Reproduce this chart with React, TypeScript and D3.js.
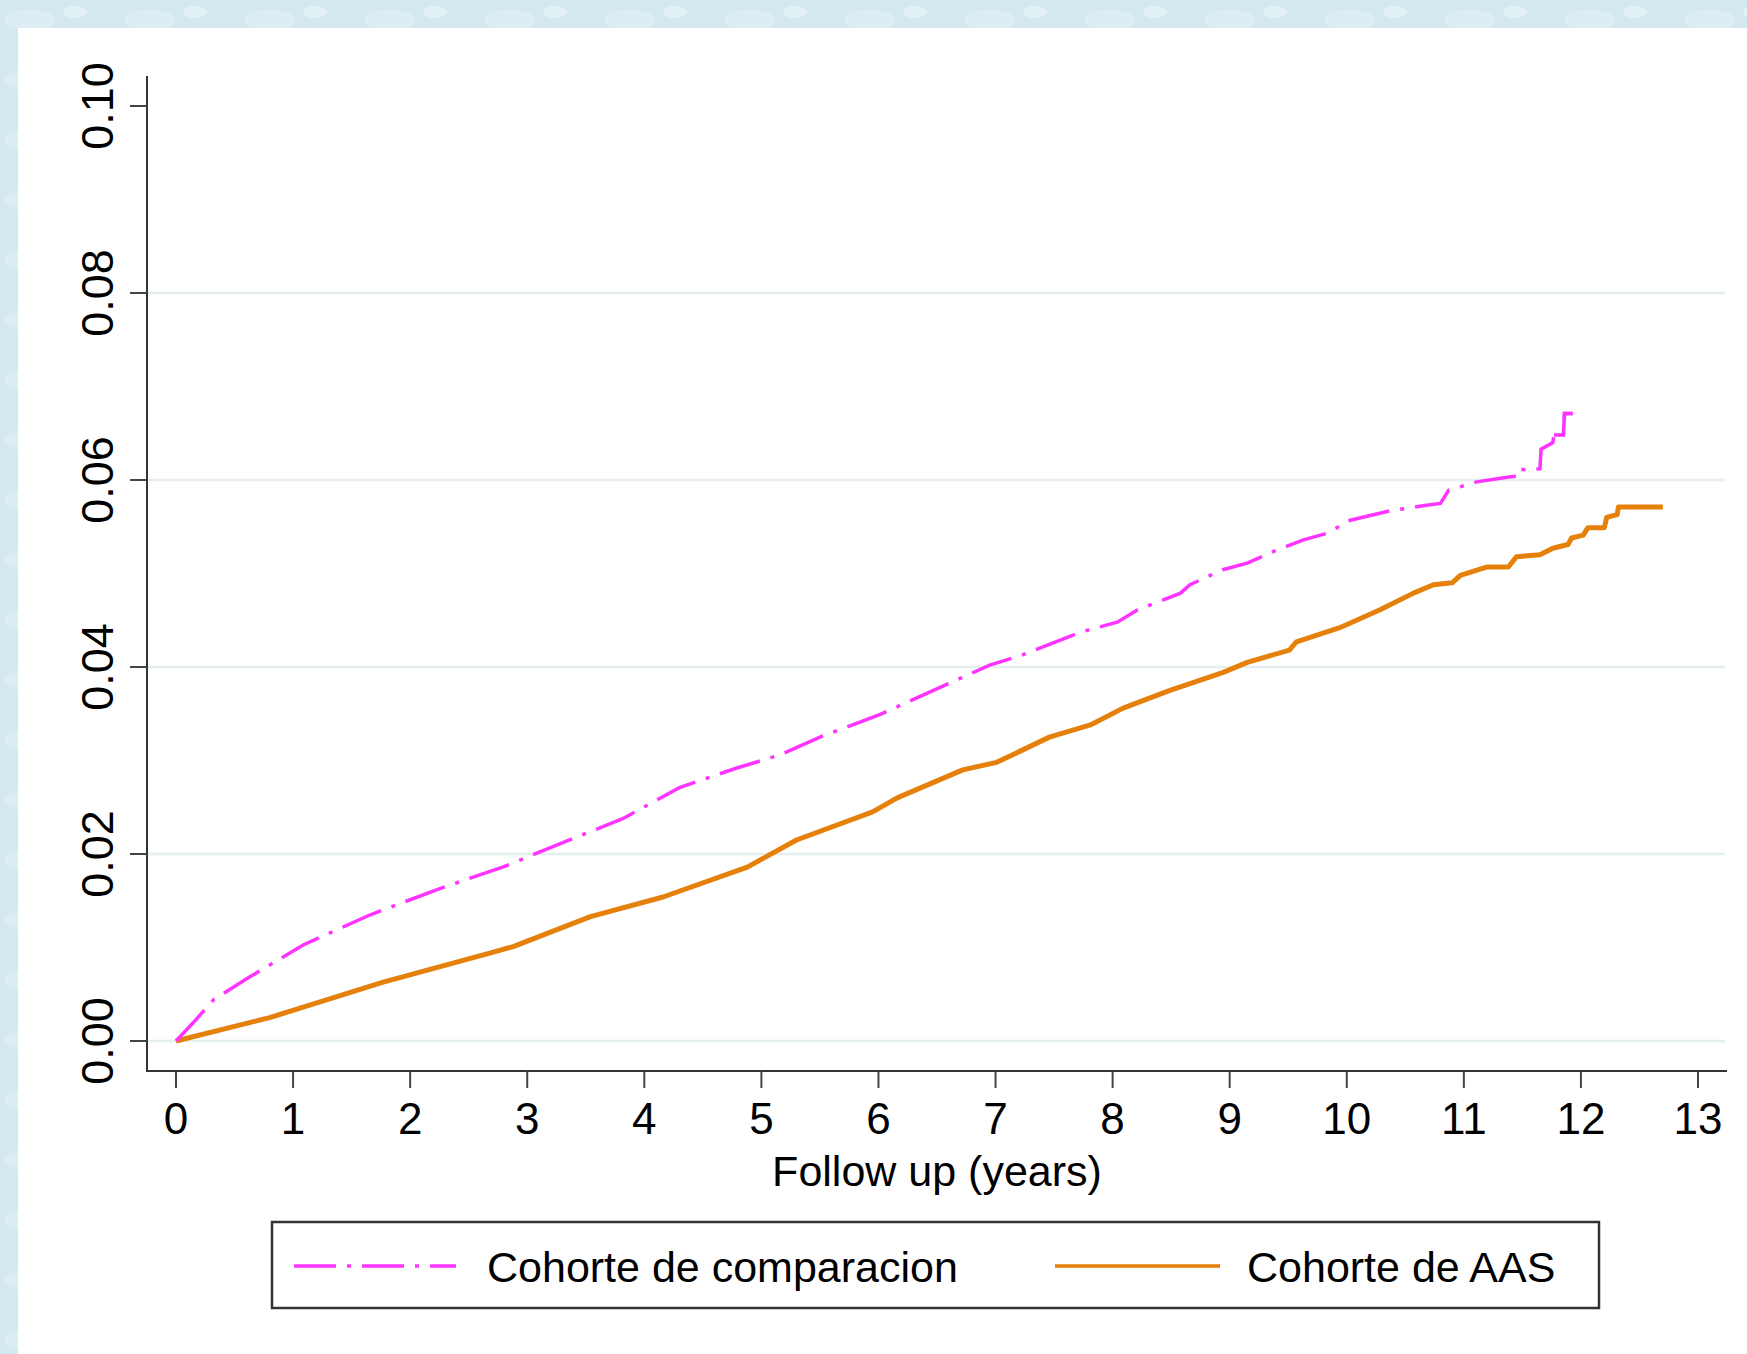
import React from "react";
import * as d3 from "d3";

const yTicks = [0, 0.02, 0.04, 0.06, 0.08, 0.1];
const gridTicks = [0, 0.02, 0.04, 0.06, 0.08];
const xTicks = d3.range(0, 14);

const compTime = [0, 0.15, 0.32, 0.61, 1.09, 1.66, 2.23, 2.79, 3.42, 3.82, 4.3, 4.79, 5.16, 5.5, 6.01, 6.47, 6.95, 7.23, 7.72, 8.04, 8.21, 8.58, 8.66, 8.94, 9.15, 9.4, 9.63, 9.83, 10.03, 10.37, 10.68, 10.8, 10.87, 11.11, 11.37, 11.45, 11.46, 11.65, 11.66, 11.76, 11.77, 11.85, 11.86, 11.93];
const compValue = [0, 0.002, 0.0044, 0.0067, 0.0103, 0.0135, 0.0162, 0.0186, 0.0218, 0.0238, 0.0271, 0.0292, 0.0306, 0.0325, 0.0349, 0.0375, 0.0402, 0.0413, 0.0437, 0.0448, 0.0461, 0.0479, 0.0488, 0.0504, 0.0511, 0.0525, 0.0536, 0.0543, 0.0557, 0.0567, 0.0573, 0.0575, 0.0589, 0.0598, 0.0603, 0.0604, 0.0611, 0.0612, 0.0633, 0.064, 0.0648, 0.0648, 0.0671, 0.0671];

const aasTime = [0, 0.8, 1.77, 2.68, 2.88, 3.54, 4.16, 4.88, 5.3, 5.95, 6.16, 6.72, 7.01, 7.46, 7.81, 8.09, 8.49, 8.94, 9.15, 9.51, 9.57, 9.94, 10.28, 10.57, 10.74, 10.9, 10.97, 11.2, 11.38, 11.45, 11.65, 11.76, 11.89, 11.92, 12.02, 12.06, 12.2, 12.22, 12.31, 12.32, 12.7];
const aasValue = [0, 0.0025, 0.0063, 0.0094, 0.0101, 0.0133, 0.0154, 0.0186, 0.0215, 0.0245, 0.026, 0.029, 0.0298, 0.0325, 0.0338, 0.0356, 0.0375, 0.0394, 0.0405, 0.0418, 0.0427, 0.0442, 0.0461, 0.0479, 0.0488, 0.049, 0.0498, 0.0507, 0.0507, 0.0518, 0.052, 0.0527, 0.0531, 0.0538, 0.0541, 0.0549, 0.0549, 0.056, 0.0563, 0.0571, 0.0571];

const seriesNames = ["Cohorte de comparacion", "Cohorte de AAS"];
const xTitle = "Follow up (years)";

const W = 1747;
const H = 1354;
const FONT = "'Liberation Sans', Arial, Helvetica, sans-serif";
const PINK = "#ff33ff";
const ORANGE = "#e5800a";
const DASH = "42,11,4,11";

export default function App() {
  const x = d3.scaleLinear().domain([0, 13]).range([176, 1698]);
  const y = d3.scaleLinear().domain([0, 0.1]).range([1041, 106]);
  const fmt = d3.format(".2f");

  const comp = compTime.map((t, i) => [t, compValue[i]] as [number, number]);
  const aas = aasTime.map((t, i) => [t, aasValue[i]] as [number, number]);
  const compTail = comp.slice(comp.length - 4);
  const line = d3
    .line<[number, number]>()
    .x((d) => x(d[0]))
    .y((d) => y(d[1]))
    .curve(d3.curveLinear);

  const axisLeft = 147;
  const axisBottom = 1071;
  const axisRight = 1727;
  const axisTop = 76;

  return (
    <svg
      width={W}
      height={H}
      style={{ position: "absolute", left: 0, top: 0, display: "block" }}
      fontFamily={FONT}
    >
      <defs>
        <pattern id="bgpat" width="120" height="60" patternUnits="userSpaceOnUse">
          <rect width="120" height="60" fill="#d3e9ef" />
          <ellipse cx="30" cy="20" rx="26" ry="10" fill="#dceef3" />
          <ellipse cx="90" cy="42" rx="22" ry="9" fill="#c9e3eb" />
          <ellipse cx="75" cy="12" rx="12" ry="6" fill="#e2f1f5" />
        </pattern>
      </defs>
      <rect x={0} y={0} width={W} height={H} fill="url(#bgpat)" />
      <rect x={18} y={28} width={W - 18} height={H - 28} fill="#ffffff" />

      {gridTicks.map((t) => (
        <line
          key={"g" + t}
          x1={axisLeft}
          x2={1725}
          y1={y(t)}
          y2={y(t)}
          stroke="#e5eef0"
          strokeWidth={2.5}
        />
      ))}

      <path d={line(aas) || ""} fill="none" stroke={ORANGE} strokeWidth={5} strokeLinejoin="round" />
      <path d={line(comp) || ""} fill="none" stroke={PINK} strokeWidth={3.5} strokeDasharray={DASH} />
      <path d={line(compTail) || ""} fill="none" stroke={PINK} strokeWidth={3.5} />

      <line x1={axisLeft} x2={axisLeft} y1={axisTop} y2={axisBottom + 1} stroke="#333" strokeWidth={2} />
      <line x1={axisLeft - 1} x2={axisRight} y1={axisBottom} y2={axisBottom} stroke="#333" strokeWidth={2} />

      {yTicks.map((t) => (
        <g key={"y" + t}>
          <line x1={130} x2={axisLeft} y1={y(t)} y2={y(t)} stroke="#444" strokeWidth={2} />
          <text
            transform={`translate(113,${y(t)}) rotate(-90)`}
            textAnchor="middle"
            fontSize={45}
            fill="#000"
          >
            {fmt(t)}
          </text>
        </g>
      ))}

      {xTicks.map((t) => (
        <g key={"x" + t}>
          <line x1={x(t)} x2={x(t)} y1={axisBottom} y2={1088} stroke="#444" strokeWidth={2} />
          <text x={x(t)} y={1134} textAnchor="middle" fontSize={44} fill="#000">
            {t}
          </text>
        </g>
      ))}

      <text x={(x(0) + x(13)) / 2} y={1186} textAnchor="middle" fontSize={43} fill="#000">
        {xTitle}
      </text>

      <rect x={272} y={1222} width={1327} height={86} fill="#fff" stroke="#333" strokeWidth={2.5} />
      <line x1={294} x2={456} y1={1266} y2={1266} stroke={PINK} strokeWidth={3.5} strokeDasharray={DASH} />
      <text x={487} y={1282} fontSize={43} fill="#000">
        {seriesNames[0]}
      </text>
      <line x1={1055} x2={1220} y1={1266} y2={1266} stroke={ORANGE} strokeWidth={3.5} />
      <text x={1247} y={1282} fontSize={43} fill="#000">
        {seriesNames[1]}
      </text>
    </svg>
  );
}
